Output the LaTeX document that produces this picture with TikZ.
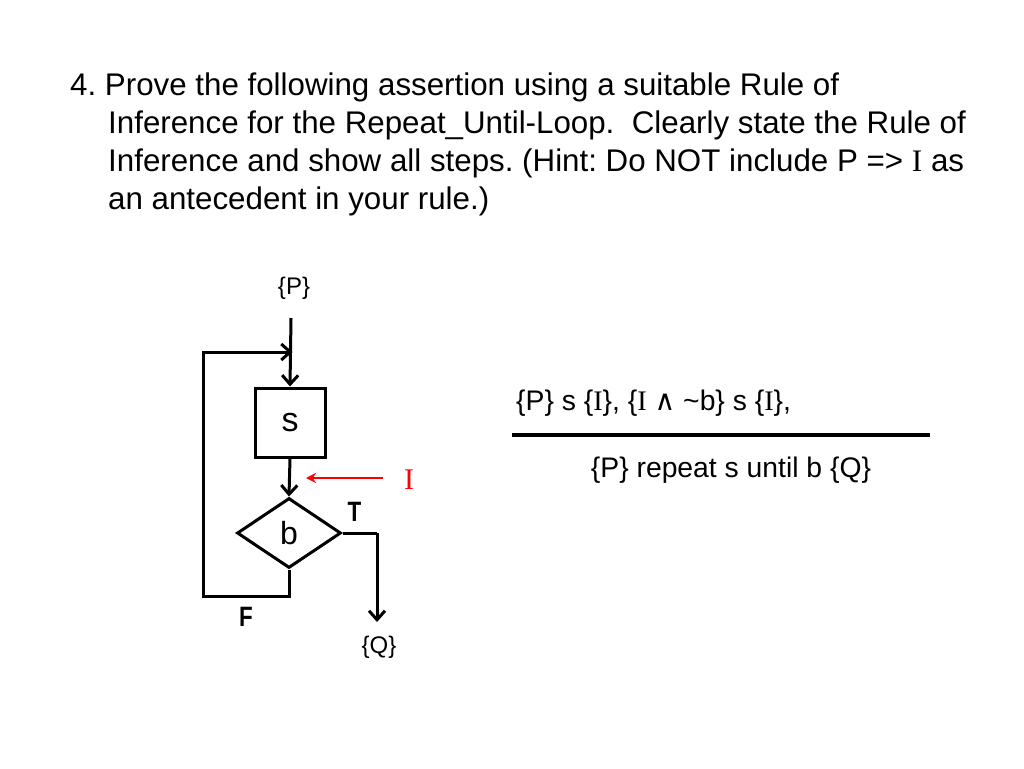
\documentclass[tikz,border=0pt]{standalone}
\usepackage{fontspec}
\setmainfont{Liberation Sans}
\newfontfamily\serifI{Liberation Serif}
\newfontfamily\dejavu{DejaVu Sans}
\newfontfamily\narrowbold[FakeStretch=0.8]{Liberation Sans Bold}
\usetikzlibrary{arrows.meta,shapes.geometric}
\frenchspacing
\begin{document}
\begin{tikzpicture}[x=1pt,y=-1pt,
  line/.style={line width=3pt},
  arr/.style={line width=3pt,-{Straight Barb[length=9pt,width=16pt,line width=3pt]}},
  titleline/.style={anchor=base west,inner sep=0pt,font=\fontsize{31.3}{36}\selectfont},
  lbl/.style={inner sep=0pt,font=\fontsize{24}{28}\selectfont},
  rule/.style={inner sep=0pt,font=\fontsize{28.3}{32}\selectfont},
  tf/.style={inner sep=0pt,anchor=base,font=\narrowbold\fontsize{28}{30}\selectfont}]
\useasboundingbox[fill=white] (0,0) rectangle (1024,768);
% title
\node[titleline] (t1) at (70,95) {4. Prove the following assertion using a suitable Rule of};
\node[titleline] (t2) at (108,133) {Inference for the Repeat\_Until-Loop.\ \ Clearly state the Rule of};
\node[titleline] (t3) at (108,171) {Inference and show all steps. (Hint: Do NOT include P => {\serifI I} as};
\node[titleline] (t4) at (108,209) {an antecedent in your rule.)};
% flowchart
\node[lbl] (P) at (294,288) {\{P\}};
\coordinate (ptop) at (291,318);
\node[draw,line width=3pt,minimum width=70pt,minimum height=69pt,inner sep=0pt,font=\fontsize{34}{36}\selectfont] (s) at (290,422.5) {s};
\node[draw,line width=3pt,diamond,minimum width=104pt,minimum height=70pt,inner sep=0pt,font=\fontsize{32}{36}\selectfont] (b) at (289,533) {b};
\coordinate (join) at (291,352);
\coordinate (lt) at (203,352);
\coordinate (lb) at (203,596);
\coordinate (bb) at (289,596);
\coordinate (tr) at (377,533);
\coordinate (qend) at (377,622);
\node[lbl] (Q) at (379,647) {\{Q\}};
\draw[arr] (ptop) -- (s.north);
\draw[arr] (s.south) -- (b.north);
\draw[line,line join=miter] (b.south) -- (bb) -- (lb) -- (lt) -- (join);
\draw[arr,shorten >=-1.5pt] (lt) -- (join);
\draw[line] (b.east) -- (tr);
\draw[arr] (tr) -- (qend);
\node[tf] (T) at (354.5,521) {T};
\node[tf] (F) at (246,626) {F};
% red invariant arrow
\coordinate (ra) at (383,478);
\coordinate (rb) at (306,478);
\draw[red,line width=2.5pt,-{Stealth[length=10pt,width=10pt]}] (ra) -- (rb);
\node[inner sep=0pt,text=red,font=\serifI\fontsize{30}{32}\selectfont] (I) at (409,480) {I};
% rule
\node[rule,anchor=base west] (pre) at (516,410) {\{P\} s \{{\serifI I}\}, \{{\serifI I} {\dejavu ∧} \textasciitilde b\} s \{{\serifI I}\},};
\coordinate (r1) at (512,435);
\coordinate (r2) at (930,435);
\draw[line width=4pt] (r1) -- (r2);
\node[rule,anchor=base] (con) at (731,477) {\{P\} repeat s until b \{Q\}};
\end{tikzpicture}
\end{document}
